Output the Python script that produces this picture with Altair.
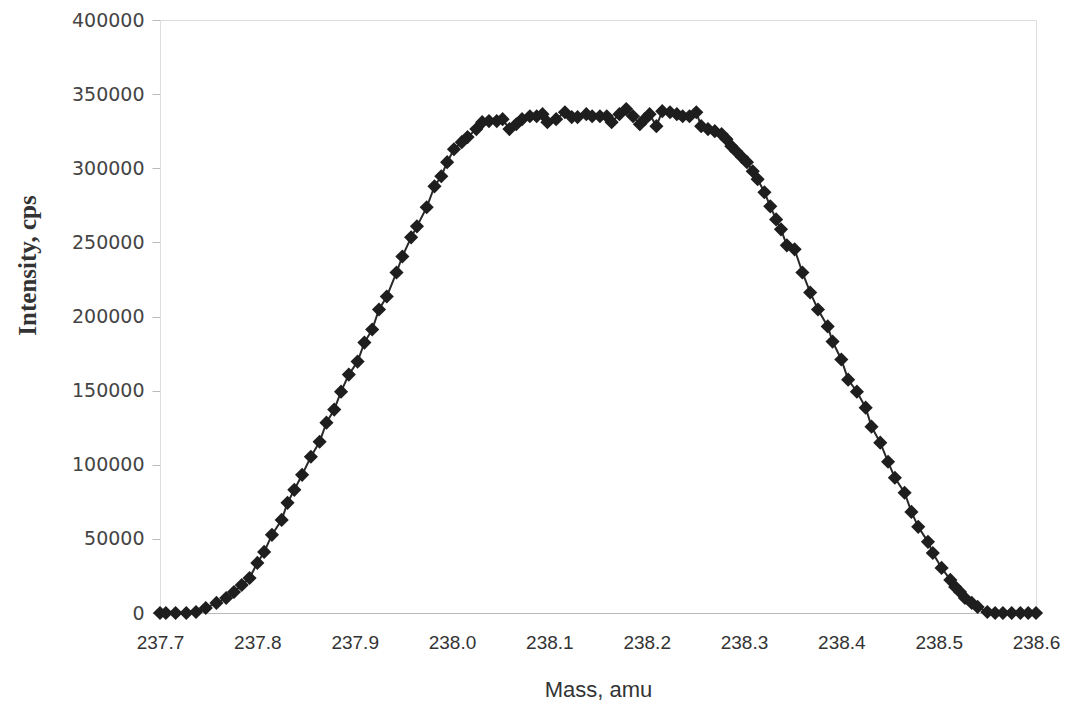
import altair as alt
import pandas as pd

mass = [237.700, 237.706, 237.716, 237.727, 237.737, 237.747, 237.758, 237.768, 237.776, 237.784,
        237.792, 237.800, 237.807, 237.815, 237.825, 237.831, 237.838, 237.846, 237.855, 237.864,
        237.871, 237.879, 237.886, 237.894, 237.903, 237.910, 237.918, 237.925, 237.933, 237.943,
        237.949, 237.958, 237.964, 237.974, 237.982, 237.989, 237.995, 238.002, 238.010, 238.016,
        238.025, 238.031, 238.038, 238.046, 238.052, 238.059, 238.066, 238.072, 238.080, 238.087,
        238.093, 238.098, 238.107, 238.116, 238.123, 238.129, 238.138, 238.144, 238.152, 238.159,
        238.164, 238.172, 238.179, 238.186, 238.193, 238.198, 238.203, 238.210, 238.216, 238.224,
        238.231, 238.237, 238.244, 238.251, 238.256, 238.263, 238.270, 238.277, 238.282, 238.287,
        238.292, 238.298, 238.303, 238.309, 238.314, 238.321, 238.327, 238.333, 238.338, 238.344,
        238.352, 238.360, 238.368, 238.376, 238.386, 238.391, 238.400, 238.407, 238.416, 238.425,
        238.431, 238.440, 238.448, 238.455, 238.465, 238.472, 238.479, 238.489, 238.494, 238.503,
        238.512, 238.517, 238.522, 238.527, 238.534, 238.540, 238.550, 238.558, 238.566, 238.575,
        238.584, 238.592, 238.600]

intensity = [0, 0, 0, 0, 700, 3400, 6800, 10100, 14200, 18900,
             23600, 33800, 41200, 52700, 62800, 74300, 83100, 93200, 105400, 115500,
             128400, 137200, 149300, 160800, 169600, 182400, 191200, 204700, 213500, 229700,
             240500, 253400, 260800, 273700, 287800, 294600, 304100, 312800, 317600, 321000,
             326400, 331100, 331800, 331800, 333100, 326400, 329700, 333100, 335100, 335100,
             336500, 331100, 333100, 337800, 334500, 334500, 336500, 335100, 335100, 335100,
             331100, 336500, 339900, 335100, 329700, 333100, 336500, 328400, 338500, 337800,
             336500, 335100, 335100, 337800, 328400, 326400, 325000, 323000, 319600, 314900,
             311500, 307400, 304100, 298000, 292600, 283800, 274300, 265500, 258800, 248000,
             245300, 229700, 216200, 204700, 193300, 183100, 171000, 157400, 149300, 138500,
             125700, 114900, 102000, 91200, 81100, 68200, 58100, 48000, 40500, 30400,
             22300, 17600, 14200, 10100, 6800, 4100, 700, 0, 0, 0,
             0, 0, 0]

x_ticks = [237.7, 237.8, 237.9, 238.0, 238.1, 238.2, 238.3, 238.4, 238.5, 238.6]
y_ticks = [0, 50000, 100000, 150000, 200000, 250000, 300000, 350000, 400000]

df = pd.DataFrame({"mass": mass, "intensity": intensity})

x_enc = alt.X(
    "mass:Q",
    scale=alt.Scale(domain=[237.7, 238.6], nice=False, zero=False),
    axis=alt.Axis(
        values=x_ticks, format=".1f", title="Mass, amu", ticks=False, grid=False,
        labelFont="Liberation Sans", labelFontSize=19,
        labelColor="#333", labelPadding=20, labelFlush=False, labelOverlap=False,
        domainColor="#bbbbbb", domainWidth=1,
        titleFont="Liberation Sans", titleFontSize=22,
        titleFontWeight="normal", titleColor="#333", titleY=76, titleBaseline="middle",
    ),
)
y_enc = alt.Y(
    "intensity:Q",
    scale=alt.Scale(domain=[0, 400000], nice=False),
    axis=alt.Axis(
        values=y_ticks, format="d", title="Intensity, cps", grid=False,
        tickSize=8, tickColor="#bbbbbb", domainColor="#dddddd",
        labelFont="DejaVu Sans", labelFontSize=19, labelColor="#444", labelPadding=8,
        titleFont="Liberation Serif", titleFontSize=25, titleFontWeight="bold",
        titleColor="#333", titleAngle=270, titleX=-133, titleY=245,
        titleAlign="center", titleBaseline="middle",
    ),
)

base = alt.Chart(df).encode(x=x_enc, y=y_enc)
line = base.mark_line(color="#2a2a2a", strokeWidth=2)
pts = base.mark_point(shape="diamond", filled=True, size=200, color="#1e1e1e", opacity=1)

chart = (line + pts).properties(
    width=876, height=593,
    autosize=alt.AutoSizeParams(type="none"),
    padding={"left": 152, "top": 12, "right": 26, "bottom": 92},
).configure_view(stroke="#d8d8d8", strokeWidth=1).configure(background="white")

chart.save("out.html", embed_options={"renderer": "svg", "actions": False})
